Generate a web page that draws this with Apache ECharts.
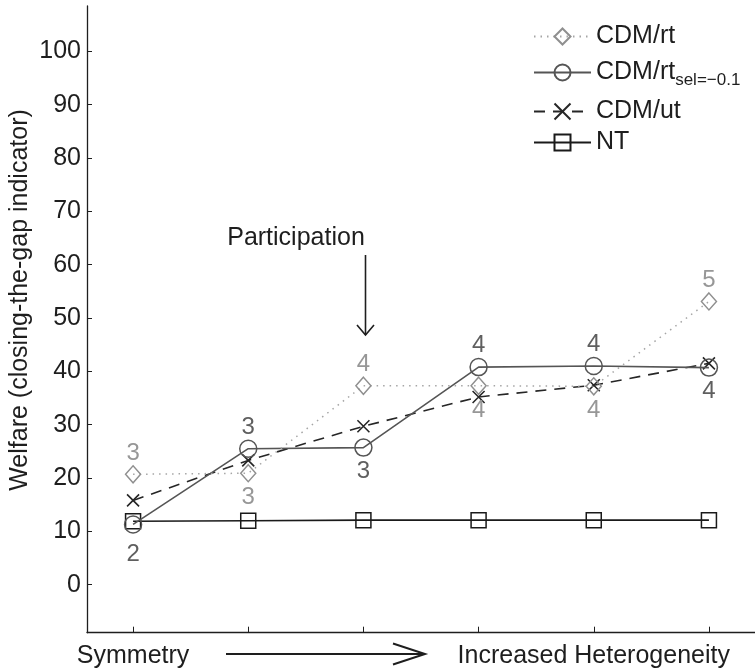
<!DOCTYPE html>
<html>
<head>
<meta charset="utf-8">
<style>
  html, body { margin: 0; padding: 0; background: #fff; }
  #chart { width: 755px; height: 670px; }
</style>
<script src="https://cdn.jsdelivr.net/npm/echarts@6/dist/echarts.min.js"></script>
</head>
<body>
<div id="chart"></div>
<script>
// Scenario positions along the heterogeneity axis
const positions = [1, 2, 3, 4, 5, 6];
const xTickLabels = ['Symmetry', '', '', '', 'Increased Heterogeneity', ''];
const yTicks = [0, 10, 20, 30, 40, 50, 60, 70, 80, 90, 100];

// Welfare (closing-the-gap indicator) per scenario
const cdmRt    = [20.7, 20.9, 37.3, 37.3, 37.2, 53.1];
const cdmRtSel = [11.3, 25.5, 25.7, 40.8, 41.0, 40.7];
const cdmUt    = [15.8, 23.3, 29.7, 35.2, 37.4, 41.5];
const nt       = [11.9, 12.0, 12.1, 12.1, 12.1, 12.1];

// Coalition sizes annotated at the points
const cdmRtCounts    = ['3', '3', '4', '4', '4', '5'];
const cdmRtSelCounts = ['2', '3', '3', '4', '4', '4'];

// Which side of the marker each count is printed on, and its gap
const cdmRtCountSide    = ['top', 'bottom', 'top', 'bottom', 'bottom', 'top'];
const cdmRtSelCountSide = ['bottom', 'top', 'bottom', 'top', 'top', 'bottom'];
const cdmRtCountGap     = [0, 3, 0, 3, 3, 0];
const cdmRtSelCountGap  = [9, 0, 3, 0, 0, 3];

const FONT = '"Liberation Sans", Arial, Helvetica, sans-serif';
const INK = '#1e1e1e';

function points(values, counts, sides, gaps, color) {
  return values.map((v, i) => {
    const item = { value: [positions[i], v] };
    if (counts) {
      item.label = {
        show: true,
        position: sides[i],
        distance: gaps[i],
        formatter: counts[i],
        color: color,
        fontSize: 24,
        fontFamily: FONT
      };
    }
    return item;
  });
}

const chart = echarts.init(document.getElementById('chart'), null, { renderer: 'canvas' });

const legendBase = {
  left: 533,
  padding: 0,
  orient: 'horizontal',
  itemWidth: 57,
  itemHeight: 20,
  selectedMode: false,
  textStyle: {
    color: INK, fontSize: 25, fontFamily: FONT,
    rich: {
      m: { fontSize: 25, fontFamily: FONT, color: INK, lineHeight: 25, verticalAlign: 'bottom' },
      s: { fontSize: 17, fontFamily: FONT, color: INK, lineHeight: 17, verticalAlign: 'bottom', padding: [0, 0, -4, 0] }
    }
  },
  formatter: name => name === 'CDM/rt_sel' ? '{m|CDM/rt}{s|sel=\u22120.1}' : name
};

const option = {
  animation: false,
  backgroundColor: '#fff',
  grid: { left: 87, top: 6, width: 674, height: 626.7, containLabel: false },
  legend: [
    Object.assign({}, legendBase, { top: 24, data: ['CDM/rt'] }),
    Object.assign({}, legendBase, { top: 60, data: ['CDM/rt_sel'] }),
    Object.assign({}, legendBase, { top: 99, data: ['CDM/ut'] }),
    Object.assign({}, legendBase, { top: 130, data: ['NT'] })
  ],
  xAxis: {
    type: 'value',
    min: 0.6,
    max: 6.4,
    splitLine: { show: false },
    axisLine: { onZero: false, lineStyle: { color: INK, width: 1.3 } },
    axisTick: { show: true, inside: true, length: 6, customValues: positions, lineStyle: { color: INK, width: 1 } },
    axisLabel: {
      customValues: positions,
      margin: 11,
      color: INK,
      fontSize: 25,
      fontFamily: FONT,
      formatter: v => xTickLabels[positions.indexOf(Math.round(v))] || ''
    }
  },
  yAxis: {
    type: 'value',
    min: -9,
    max: 108.5,
    splitLine: { show: false },
    axisLine: { show: true, onZero: false, lineStyle: { color: INK, width: 1.3 } },
    axisTick: { show: true, inside: true, length: 5, customValues: yTicks, lineStyle: { color: INK, width: 1 } },
    axisLabel: {
      customValues: yTicks,
      margin: 6,
      color: INK,
      fontSize: 25,
      fontFamily: FONT
    }
  },
  series: [
    {
      name: 'NT',
      type: 'line',
      data: points(nt),
      symbol: 'rect',
      symbolSize: 15,
      lineStyle: { color: '#1a1a1a', width: 1.6, type: 'solid' },
      itemStyle: { color: 'rgba(0,0,0,0)', borderColor: '#1a1a1a', borderWidth: 1.5 },
      z: 2
    },
    {
      name: 'CDM/ut',
      type: 'line',
      data: points(cdmUt),
      symbol: 'path://M0,0L10,10M10,0L0,10',
      symbolSize: 12,
      lineStyle: { color: '#262626', width: 1.6, type: [11, 8] },
      itemStyle: { color: 'rgba(0,0,0,0)', borderColor: '#262626', borderWidth: 1.6 },
      z: 3
    },
    {
      name: 'CDM/rt_sel',
      type: 'line',
      data: points(cdmRtSel, cdmRtSelCounts, cdmRtSelCountSide, cdmRtSelCountGap, '#5f5f5f'),
      symbol: 'circle',
      symbolSize: 17,
      lineStyle: { color: '#555', width: 1.6, type: 'solid' },
      itemStyle: { color: 'rgba(0,0,0,0)', borderColor: '#555', borderWidth: 1.5 },
      z: 4
    },
    {
      name: 'CDM/rt',
      type: 'line',
      data: points(cdmRt, cdmRtCounts, cdmRtCountSide, cdmRtCountGap, '#979797'),
      symbol: 'diamond',
      symbolSize: [15, 17],
      lineStyle: { color: '#a5a5a5', width: 1.5, type: [1.5, 5] },
      itemStyle: { color: 'rgba(0,0,0,0)', borderColor: '#8f8f8f', borderWidth: 1.5 },
      z: 5
    }
  ],
  graphic: [
    // vertical axis title
    {
      type: 'text',
      x: 20, y: 300,
      rotation: Math.PI / 2,
      style: {
        text: 'Welfare (closing-the-gap indicator)',
        fontSize: 25, fontFamily: FONT, fill: INK,
        align: 'center', verticalAlign: 'middle'
      }
    },
    // participation marker
    {
      type: 'text',
      x: 296, y: 238,
      style: {
        text: 'Participation',
        fontSize: 25, fontFamily: FONT, fill: INK,
        align: 'center', verticalAlign: 'middle'
      }
    },
    {
      type: 'line',
      shape: { x1: 365.5, y1: 255, x2: 365.5, y2: 335 },
      style: { stroke: INK, lineWidth: 1.6 }
    },
    {
      type: 'polyline',
      shape: { points: [[357, 325], [365.5, 335], [374, 325]] },
      style: { stroke: INK, lineWidth: 1.6, fill: null }
    },
    // heterogeneity direction arrow
    {
      type: 'line',
      shape: { x1: 226, y1: 654, x2: 424, y2: 654 },
      style: { stroke: INK, lineWidth: 2 }
    },
    {
      type: 'polyline',
      shape: { points: [[393, 643.5], [425, 654], [393, 664.5]] },
      style: { stroke: INK, lineWidth: 2, fill: null }
    }
  ]
};

chart.setOption(option);
</script>
</body>
</html>
